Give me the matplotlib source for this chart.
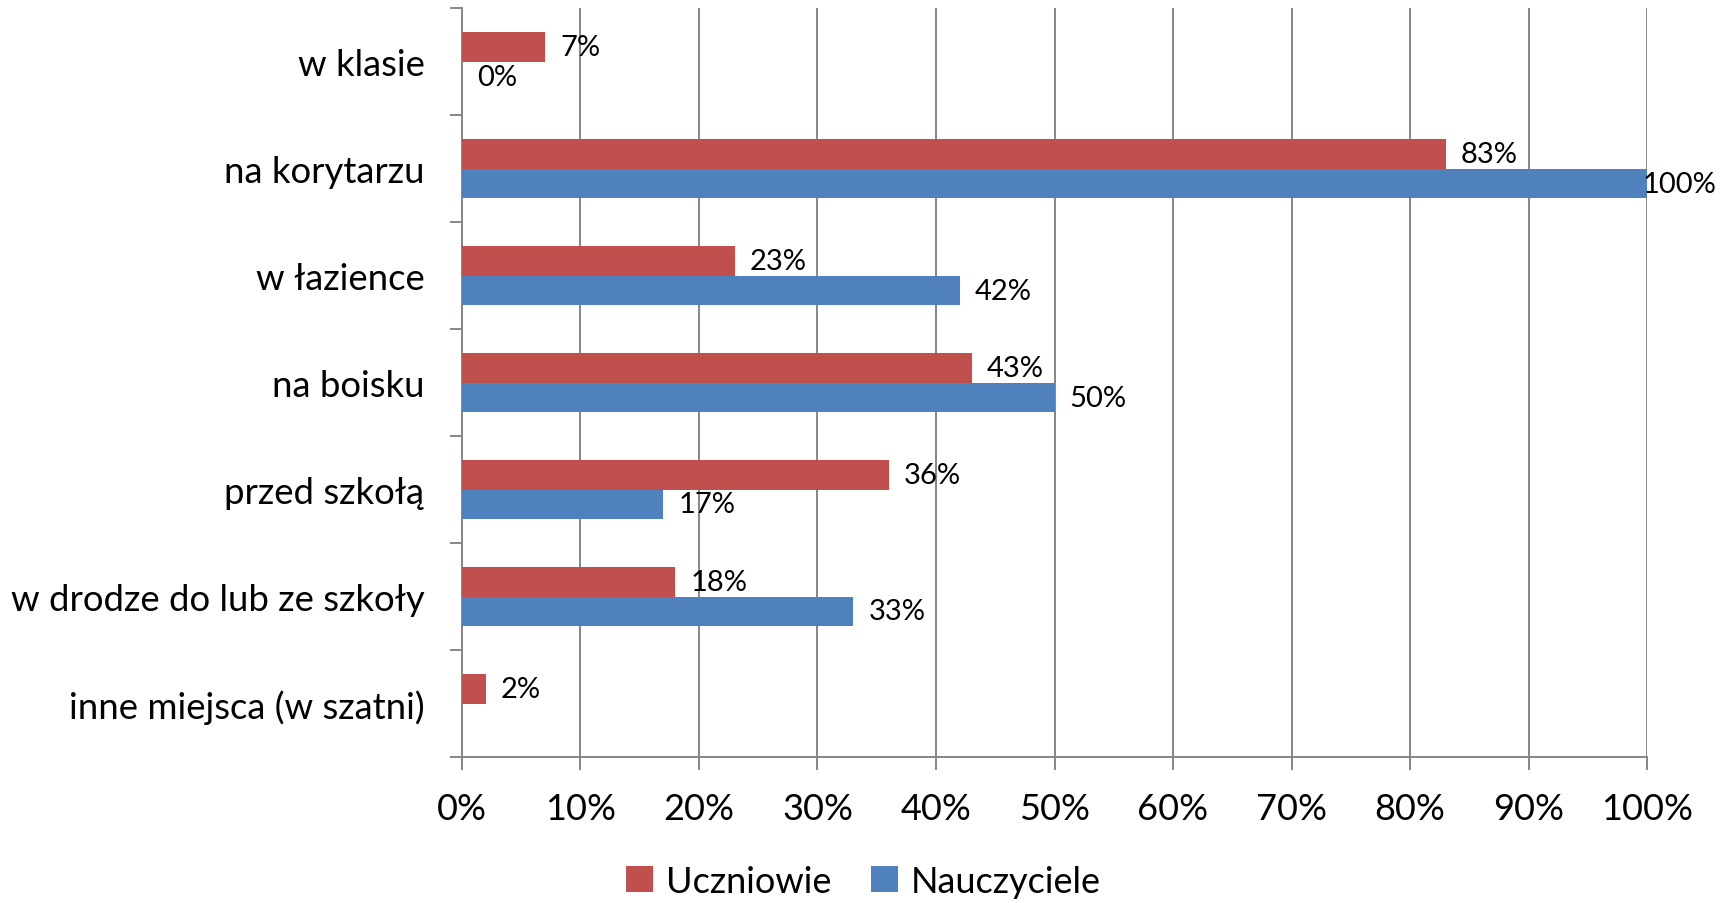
import numpy as np
import matplotlib
matplotlib.use("Agg")
import matplotlib.pyplot as plt

plt.rcParams['font.family'] = ['Lato', 'DejaVu Sans']

# data (percent)
places = ["w klasie", "na korytarzu", "w łazience", "na boisku", "przed szkołą",
          "w drodze do lub ze szkoły", "inne miejsca (w szatni)"]
uczniowie = [7, 83, 23, 43, 36, 18, 2]
nauczyciele = [0, 100, 42, 50, 17, 33, np.nan]
x_ticks = [0, 10, 20, 30, 40, 50, 60, 70, 80, 90, 100]

red = "#C0504D"
blue = "#4F81BD"
grey = "#868686"

fig = plt.figure(figsize=(17.27, 9.04), dpi=100)
ax = fig.add_axes([0.2675, 0.1615, 0.6862, 0.8285])

pos = np.arange(len(places))
h = 0.28
ax.barh(pos - h / 2, uczniowie, height=h, color=red, linewidth=0,
        label="Uczniowie", zorder=3)
ax.barh(pos + h / 2, np.nan_to_num(nauczyciele), height=h, color=blue,
        linewidth=0, label="Nauczyciele", zorder=3)

# data labels
for i, v in enumerate(uczniowie):
    ax.annotate(f"{v}%", (v, i - h / 2), xytext=(11, 0), textcoords="offset points",
                va="center", ha="left", fontsize=21)
for i, v in enumerate(nauczyciele):
    if np.isnan(v):
        continue
    off = 11 if v < 95 else -3
    ax.annotate(f"{v:.0f}%", (v, i + h / 2), xytext=(off, 0), textcoords="offset points",
                va="center", ha="left", fontsize=21)

ax.set_xlim(0, 100)
ax.set_ylim(len(places) - 0.5, -0.5)

ax.set_xticks(x_ticks)
ax.set_xticklabels([f"{t}%" for t in x_ticks], fontsize=26)
ax.xaxis.grid(True, color=grey, linewidth=1.4, zorder=0)

ax.set_yticks(np.arange(len(places) + 1) - 0.5)
ax.set_yticklabels([])
ax.set_yticks(pos, minor=True)
ax.set_yticklabels(places, minor=True, fontsize=26.3)
ax.tick_params(axis="y", which="minor", length=0, pad=27)
ax.tick_params(axis="y", which="major", length=9, width=1.4, color=grey)
ax.tick_params(axis="x", length=9, width=1.4, color=grey, pad=16)

for s in ["top", "right"]:
    ax.spines[s].set_visible(False)
for s in ["left", "bottom"]:
    ax.spines[s].set_color(grey)
    ax.spines[s].set_linewidth(1.4)

fig.legend(loc="center", bbox_to_anchor=(0.5, 0.024), ncol=2, frameon=False,
           fontsize=26, handlelength=0.75, handleheight=0.75, handletextpad=0.35,
           columnspacing=1.1)

fig.savefig("out.png", dpi=100)
